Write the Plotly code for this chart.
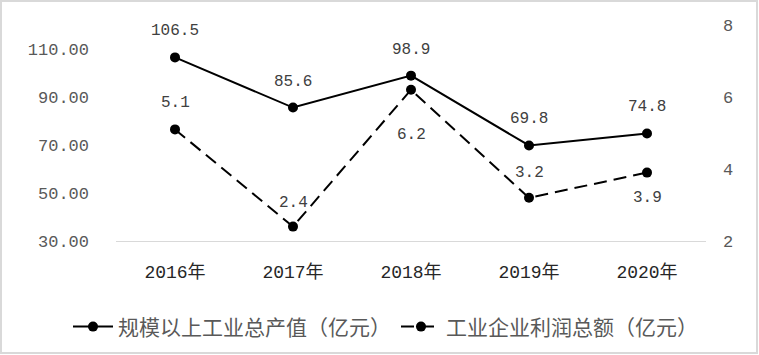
import plotly.graph_objects as go

years = ["2016年", "2017年", "2018年", "2019年", "2020年"]
output_value = [106.5, 85.6, 98.9, 69.8, 74.8]
profit = [5.1, 2.4, 6.2, 3.2, 3.9]
name_output = "规模以上工业总产值（亿元）"
name_profit = "工业企业利润总额（亿元）"
left_ticks = [30, 50, 70, 90, 110]
right_ticks = [2, 4, 6, 8]

# label offsets (pixels) for data labels
output_label_shift = [26, 26, 26, 26, 26]
profit_label_shift = [26, 24, -45, 25, -25]

FONT = "Liberation Mono, Noto Sans CJK SC"
LABEL_COLOR = "#404040"

fig = go.Figure()
fig.add_trace(go.Scatter(
    x=years, y=output_value, name=name_output, mode="lines+markers",
    line=dict(color="black", width=2), marker=dict(color="black", size=10),
))
fig.add_trace(go.Scatter(
    x=years, y=profit, name=name_profit, mode="lines+markers", yaxis="y2",
    line=dict(color="black", width=2, dash="13px,7px"), marker=dict(color="black", size=10),
))

annotations = []
for xv, yv, s in zip(years, output_value, output_label_shift):
    annotations.append(dict(x=xv, y=yv, xref="x", yref="y", text=f"{yv:.1f}", showarrow=False,
                            yshift=s, font=dict(size=16, color=LABEL_COLOR, family=FONT)))
for xv, yv, s in zip(years, profit, profit_label_shift):
    annotations.append(dict(x=xv, y=yv, xref="x", yref="y2", text=f"{yv:.1f}", showarrow=False,
                            yshift=s, font=dict(size=16, color=LABEL_COLOR, family=FONT)))

fig.update_layout(
    width=759, height=355,
    margin=dict(l=116, r=53, t=25, b=114, autoexpand=False),
    paper_bgcolor="white", plot_bgcolor="white",
    font=dict(family=FONT, color="#595959", size=16),
    showlegend=True,
    annotations=annotations,
    legend=dict(orientation="h", x=(68 - 116) / 590, xanchor="left", y=-0.398, yanchor="middle",
                font=dict(size=21, color="#595959", family="Noto Sans CJK SC"),
                itemwidth=40, tracegroupgap=0),
    xaxis=dict(range=[-0.5, 4.5], showgrid=False, showline=True, linecolor="#d9d9d9", linewidth=1,
               ticks="", tickfont=dict(size=18, color="#262626"), ticklabelstandoff=14),
    yaxis=dict(range=[30, 120], tickvals=left_ticks, ticktext=[f"{v:.2f}" for v in left_ticks],
               showgrid=False, zeroline=False, showline=False, ticks="",
               tickfont=dict(size=17, color="#595959"), ticklabelstandoff=26),
    yaxis2=dict(range=[2, 8], tickvals=right_ticks, overlaying="y", side="right",
                showgrid=False, zeroline=False, showline=False, ticks="",
                tickfont=dict(size=17, color="#595959"), ticklabelstandoff=16),
    shapes=[dict(type="rect", xref="paper", yref="paper",
                 x0=(1 - 116) / 590, x1=(757 - 116) / 590,
                 y0=(241 - 353) / 216, y1=(241 - 1) / 216,
                 line=dict(color="#d9d9d9", width=2), fillcolor="rgba(0,0,0,0)", layer="below")],
)

fig.write_html("out.html", config={"displayModeBar": False},
               post_script="document.body.style.margin='0';document.body.style.padding='0';")
